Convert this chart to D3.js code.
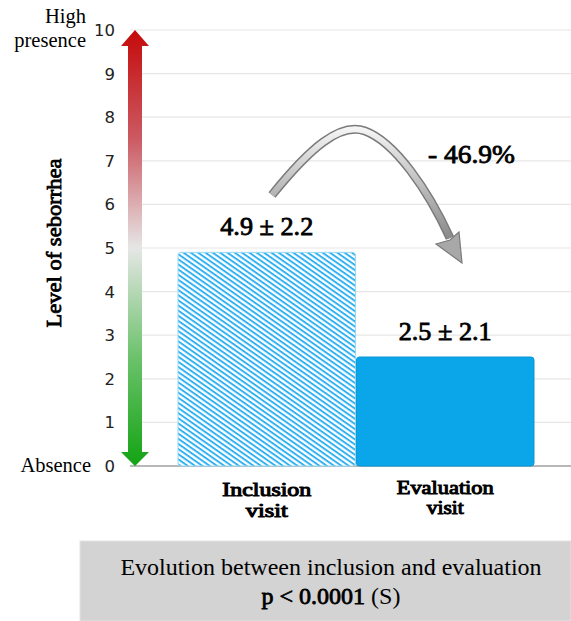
<!DOCTYPE html>
<html>
<head>
<meta charset="utf-8">
<script src="https://cdn.jsdelivr.net/npm/d3@7"></script>
<style>
  body { margin: 0; background: #fff; }
  .serif { font-family: "Liberation Serif", "Times New Roman", serif; }
  .fakebold { stroke: #000; stroke-width: 0.8px; paint-order: stroke; }
  .heavy { stroke-width: 1px; }
</style>
</head>
<body>
<div id="chart"></div>
<script>
const visits = ["Inclusion visit", "Evaluation visit"];
const means = [4.9, 2.5];
const sds = [2.2, 2.1];
const yTicks = [0, 1, 2, 3, 4, 5, 6, 7, 8, 9, 10];
const change = "- 46.9%";

const width = 571;
const height = 621;
const svg = d3
  .select("#chart")
  .append("svg")
  .attr("width", width)
  .attr("height", height);

const x = d3.scaleBand().domain(visits).range([178, 534]).paddingInner(0.005);
const y = d3.scaleLinear().domain([0, 10]).range([466, 30]);

const defs = svg.append("defs");

// hatched fill for first bar
const pat = defs
  .append("pattern")
  .attr("id", "hatch")
  .attr("patternUnits", "userSpaceOnUse")
  .attr("width", 4.2)
  .attr("height", 4.2)
  .attr("patternTransform", "rotate(35)");
pat.append("rect").attr("width", 4.2).attr("height", 4.2).attr("fill", "#fff");
pat.append("rect").attr("width", 4.2).attr("height", 1.9).attr("fill", "#2fb0f0");

// red -> white -> green for the scale arrow
const grad = defs
  .append("linearGradient")
  .attr("id", "scaleGrad")
  .attr("x1", 0).attr("y1", 0).attr("x2", 0).attr("y2", 1);
grad.append("stop").attr("offset", "0%").attr("stop-color", "#c40a0a");
grad.append("stop").attr("offset", "25%").attr("stop-color", "#cc5a62");
grad.append("stop").attr("offset", "50%").attr("stop-color", "#e6e6e6");
grad.append("stop").attr("offset", "75%").attr("stop-color", "#6cc26c");
grad.append("stop").attr("offset", "100%").attr("stop-color", "#13a313");

const tubeGrad = defs
  .append("linearGradient")
  .attr("id", "tube")
  .attr("x1", 0).attr("y1", 0).attr("x2", 0).attr("y2", 1);
tubeGrad.append("stop").attr("offset", "0%").attr("stop-color", "#f4f4f4");
tubeGrad.append("stop").attr("offset", "100%").attr("stop-color", "#8a8a8a");

// gridlines
svg
  .append("g")
  .selectAll("line")
  .data(yTicks)
  .enter()
  .append("line")
  .attr("x1", 130)
  .attr("x2", width)
  .attr("y1", (d) => y(d))
  .attr("y2", (d) => y(d))
  .attr("stroke", (d) => (d === 0 ? "#a0a0a0" : "#e6e6e6"))
  .attr("stroke-width", (d) => (d === 0 ? 1.5 : 1.2));

// y tick labels
svg
  .append("g")
  .selectAll("text")
  .data(yTicks)
  .enter()
  .append("text")
  .attr("x", 115)
  .attr("y", (d) => y(d) + 6)
  .attr("text-anchor", "end")
  .attr("font-family", "DejaVu Sans, sans-serif")
  .attr("font-size", "16.5px")
  .attr("fill", "#222")
  .text((d) => d);

// bars
svg
  .append("g")
  .selectAll("rect")
  .data(visits)
  .enter()
  .append("rect")
  .attr("x", (d) => x(d))
  .attr("y", (d, i) => y(means[i]))
  .attr("width", x.bandwidth())
  .attr("height", (d, i) => y(0) - y(means[i]))
  .attr("rx", 3)
  .attr("fill", (d, i) => (i === 0 ? "url(#hatch)" : "#0ba6e9"))
  .attr("stroke", (d, i) => (i === 0 ? "#9ad8f5" : "#0896d6"))
  .attr("stroke-width", 1);

// bar value labels
svg
  .append("g")
  .selectAll("text")
  .data(visits)
  .enter()
  .append("text")
  .attr("class", "serif fakebold")
  .attr("x", (d) => x(d) + x.bandwidth() / 2)
  .attr("y", (d, i) => y(means[i]) - 17)
  .attr("text-anchor", "middle")
  .attr("font-size", "25px")
  .attr("textLength", 93)
  .attr("lengthAdjust", "spacingAndGlyphs")
  .text((d, i) => means[i].toFixed(1) + " \u00b1 " + sds[i].toFixed(1));

// category labels, two lines each
const labelBase = [496, 494];
const lineGap = [21, 20];
const firstLen = [89, 97];
const secondLen = [42, 37];
visits.forEach((v, i) => {
  const parts = v.split(" ");
  parts.forEach((p, j) => {
    svg
      .append("text")
      .attr("class", "serif fakebold heavy")
      .attr("x", x(v) + x.bandwidth() / 2)
      .attr("y", labelBase[i] + j * lineGap[i])
      .attr("text-anchor", "middle")
      .attr("font-size", "18px")
      .attr("textLength", j === 0 ? firstLen[i] : secondLen[i])
      .attr("lengthAdjust", "spacingAndGlyphs")
      .text(p);
  });
});

// scale arrow (red top, green bottom)
const ax = 135;
const arrow = d3.path();
arrow.moveTo(ax, y(10));
arrow.lineTo(ax + 14, y(10) + 16);
arrow.lineTo(ax + 7, y(10) + 16);
arrow.lineTo(ax + 7, y(0) - 14);
arrow.lineTo(ax + 14, y(0) - 14);
arrow.lineTo(ax, y(0));
arrow.lineTo(ax - 14, y(0) - 14);
arrow.lineTo(ax - 7, y(0) - 14);
arrow.lineTo(ax - 7, y(10) + 16);
arrow.lineTo(ax - 14, y(10) + 16);
arrow.closePath();
svg.append("path").attr("d", arrow.toString()).attr("fill", "url(#scaleGrad)");

// axis end labels
svg
  .append("text")
  .attr("class", "serif")
  .attr("x", 86)
  .attr("y", 23)
  .attr("text-anchor", "end")
  .attr("font-size", "20.5px")
  .text("High");
svg
  .append("text")
  .attr("class", "serif")
  .attr("x", 86)
  .attr("y", 47)
  .attr("text-anchor", "end")
  .attr("font-size", "20.5px")
  .text("presence");
svg
  .append("text")
  .attr("class", "serif")
  .attr("x", 91)
  .attr("y", y(0) + 6)
  .attr("text-anchor", "end")
  .attr("font-size", "20.5px")
  .text("Absence");

// y axis title
svg
  .append("text")
  .attr("class", "serif fakebold")
  .attr("transform", "translate(61," + 243 + ") rotate(-90)")
  .attr("text-anchor", "middle")
  .attr("font-size", "21px")
  .attr("textLength", 169)
  .attr("lengthAdjust", "spacingAndGlyphs")
  .text("Level of seborrhea");

// curved gray arrow
const curve = "M272,195 C310,148 340,122 365,131 C395,142 428,190 450,238";
svg
  .append("path")
  .attr("d", curve)
  .attr("fill", "none")
  .attr("stroke", "#7a7a7a")
  .attr("stroke-width", 9)
  .attr("stroke-linecap", "butt");
svg
  .append("path")
  .attr("d", curve)
  .attr("fill", "none")
  .attr("stroke", "url(#tube)")
  .attr("stroke-width", 6);
svg
  .append("path")
  .attr("d", "M436,244 L450,240 L459,232 L462,263 Z")
  .attr("fill", "#a8a8a8")
  .attr("stroke", "#7a7a7a")
  .attr("stroke-width", 1.2);

svg
  .append("text")
  .attr("class", "serif fakebold")
  .attr("x", 471.5)
  .attr("y", 163)
  .attr("text-anchor", "middle")
  .attr("font-size", "25px")
  .attr("textLength", 87)
  .attr("lengthAdjust", "spacingAndGlyphs")
  .text(change);

// bottom box
svg
  .append("rect")
  .attr("x", 80)
  .attr("y", 541)
  .attr("width", width - 80)
  .attr("height", height - 541)
  .attr("fill", "#d3d3d3")
  .attr("stroke", "#e4e4e4");
svg
  .append("text")
  .attr("class", "serif")
  .attr("x", 331)
  .attr("y", 575)
  .attr("text-anchor", "middle")
  .attr("font-size", "24px")
  .text("Evolution between inclusion and evaluation");
const pt = svg
  .append("text")
  .attr("class", "serif")
  .attr("x", 331)
  .attr("y", 604)
  .attr("text-anchor", "middle")
  .attr("font-size", "24px");
pt.append("tspan").attr("class", "fakebold").text("p < 0.0001");
pt.append("tspan").text(" (S)");
</script>
</body>
</html>
